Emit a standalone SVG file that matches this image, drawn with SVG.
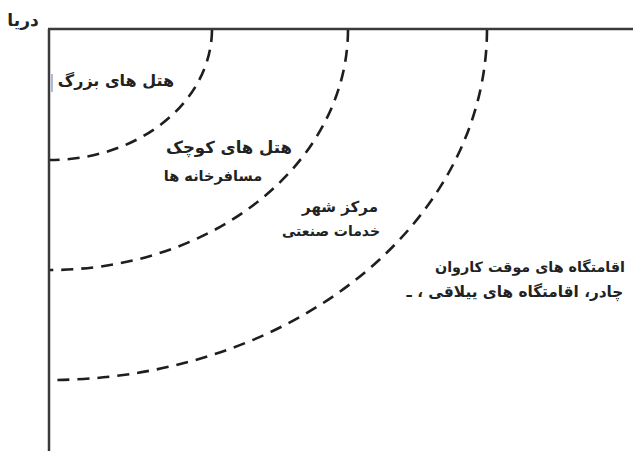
<svg xmlns="http://www.w3.org/2000/svg" width="633" height="451" viewBox="0 0 633 451">
<style>
.axis{stroke:#3a3a3a;stroke-width:2.5;fill:none}
.arc{stroke:#1e1e1e;stroke-width:2.6;fill:none;stroke-dasharray:12 8}
.t{font-family:"DejaVu Sans",sans-serif;font-weight:bold;font-size:15px;fill:#222;text-anchor:middle}
</style>
<rect width="633" height="451" fill="#ffffff"/>
<g id="connectors">
<path class="axis" d="M49,29 V451"/>
<path class="axis" d="M48,29 H633"/>
<path class="arc" d="M212,30 A162,131 0 0 1 50,160"/>
<path class="arc" d="M348,30 A298,241 0 0 1 50,270"/>
<path class="arc" d="M487,30 A437,351 0 0 1 50,380"/>
<path d="M52,74 V92" stroke="#7a8fc0" stroke-width="1.2"/>
</g>
<g id="sea"><text class="t" x="23" y="26" style="font-size:17px">دریا</text></g>
<g id="big-hotels"><text class="t" x="116" y="86" style="font-size:16px">هتل های بزرگ</text></g>
<g id="small-hotels"><text class="t" x="229" y="153" style="font-size:16.5px">هتل های کوچک</text><text class="t" x="213" y="181" style="font-size:14.5px">مسافرخانه ها</text></g>
<g id="center"><text class="t" x="340" y="212">مرکز شهر</text><text class="t" x="331" y="236" style="font-size:14px">خدمات صنعتی</text></g>
<g id="camps"><text class="t" x="530" y="272" style="font-size:14.3px">اقامتگاه های موقت کاروان</text><text class="t" x="515" y="297" style="font-size:15.3px">چادر، اقامتگاه های ییلاقی ، ـ</text></g>
</svg>
